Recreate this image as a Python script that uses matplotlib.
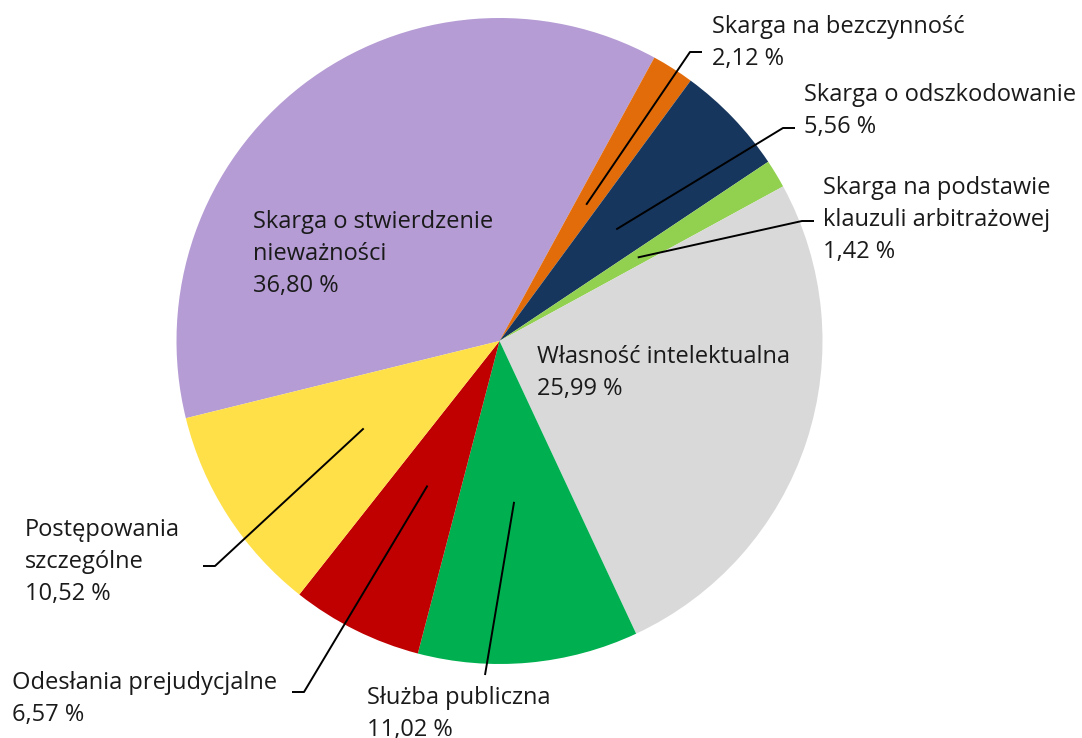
import numpy as np
import matplotlib

matplotlib.use("Agg")
import matplotlib.pyplot as plt

plt.rcParams["font.family"] = ["Open Sans", "DejaVu Sans"]

# Data (percent shares), clockwise from the purple wedge
categories = [
    "Skarga o stwierdzenie\nnieważności",
    "Skarga na bezczynność",
    "Skarga o odszkodowanie",
    "Skarga na podstawie\nklauzuli arbitrażowej",
    "Własność intelektualna",
    "Służba publiczna",
    "Odesłania prejudycjalne",
    "Postępowania\nszczególne",
]
shares = [36.80, 2.12, 5.56, 1.42, 25.99, 11.02, 6.57, 10.52]
colors = ["#B59CD4", "#E36C0A", "#17365D", "#92D050",
          "#D9D9D9", "#00B050", "#C00000", "#FFE048"]

W, H = 1082, 738
CX, CY, R = 499.5, 341.0, 323.0


def py(y):
    # pixel row (from top) -> data y
    return H - y


fig = plt.figure(figsize=(W / 100, H / 100), dpi=100)
ax = fig.add_axes([0, 0, 1, 1])

wedges, _ = ax.pie(shares, colors=colors, startangle=193.83, counterclock=False,
                   center=(CX, py(CY)), radius=R, frame=True,
                   wedgeprops=dict(linewidth=0))
ax.set_xlim(0, W)
ax.set_ylim(0, H)
ax.set_aspect("equal")
ax.axis("off")

# label layout: (text x, block centre y, elbow point or None)
layout = [
    (253, 254, None),
    (712, 43, (690, 52)),
    (804, 111, (783, 128)),
    (823, 220, (802, 221)),
    (537, 373, None),
    (367, 714, (485, 675)),
    (12, 699, (304, 692)),
    (25, 562, (215, 566)),
]

for w, name, val, (tx, ty, elbow) in zip(wedges, categories, shares, layout):
    label = f"{name}\n{val:.2f} %".replace(".", ",")
    ax.text(tx, py(ty), label, ha="left", va="center", fontsize=17,
            linespacing=1.44, color="#1a1a1a")
    if elbow is None:
        continue
    mid = np.deg2rad((w.theta1 + w.theta2) / 2)
    sx = CX + 0.5 * R * np.cos(mid)
    sy = py(CY) + 0.5 * R * np.sin(mid)
    ex, ey = elbow[0], py(elbow[1])
    xs, ys = [sx, ex], [sy, ey]
    if name.startswith("Służba"):
        pass
    elif ex > CX:
        xs.append(ex + 12)
        ys.append(ey)
    else:
        xs.append(ex - 12)
        ys.append(ey)
    ax.plot(xs, ys, color="black", linewidth=1.4, solid_capstyle="butt")

fig.savefig("out.png", dpi=100)
